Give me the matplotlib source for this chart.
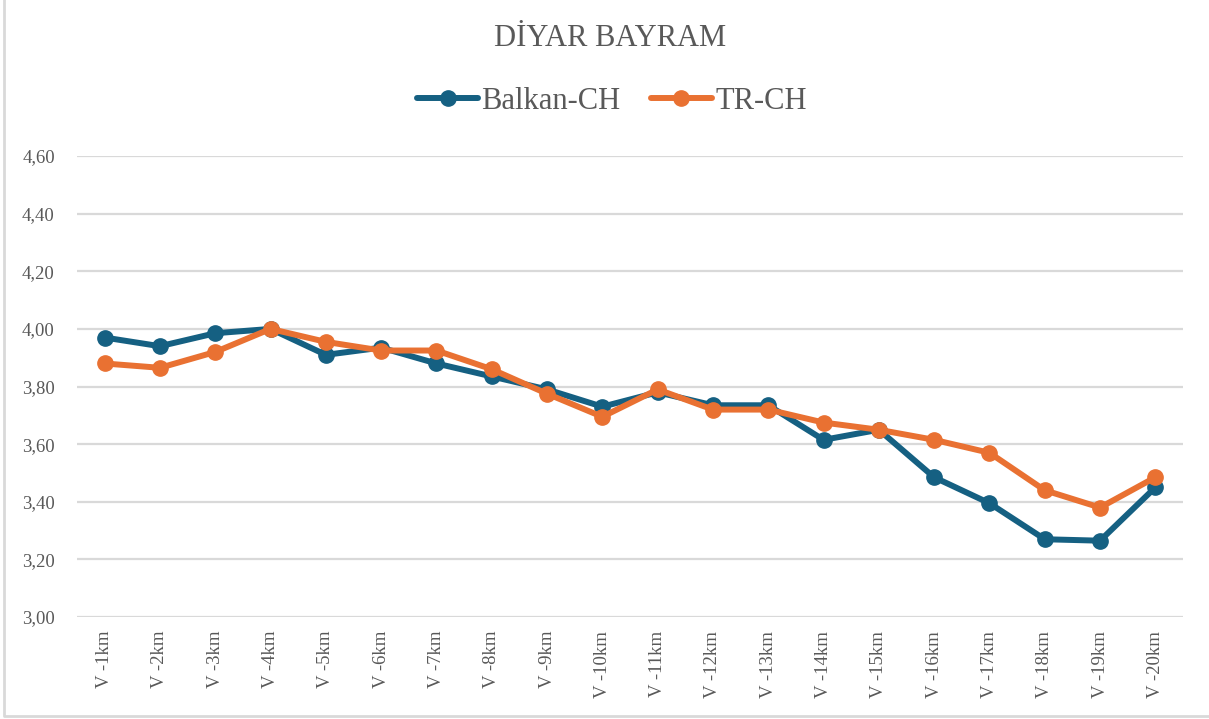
import matplotlib.pyplot as plt
from matplotlib.lines import Line2D
from matplotlib.ticker import FuncFormatter

# veriler
etiketler = ['V -%dkm' % i for i in range(1, 21)]
balkan_ch = [3.97, 3.94, 3.985, 4.00, 3.91, 3.935, 3.88, 3.835, 3.79, 3.73,
             3.78, 3.735, 3.735, 3.615, 3.65, 3.485, 3.395, 3.27, 3.265, 3.45]
tr_ch = [3.88, 3.865, 3.92, 4.00, 3.955, 3.925, 3.925, 3.86, 3.775, 3.695,
         3.79, 3.72, 3.72, 3.675, 3.65, 3.615, 3.57, 3.44, 3.38, 3.485]
y_ticks = [3.0, 3.2, 3.4, 3.6, 3.8, 4.0, 4.2, 4.4, 4.6]

plt.rcParams['font.family'] = ['Liberation Serif', 'DejaVu Serif']
gri = '#595959'

fig = plt.figure(figsize=(12.09, 7.19), dpi=100)
# dis cerceve (sol ve alt kenar gorunuyor)
fig.lines.append(Line2D([0.003, 0.003, 1.0], [1.0, 0.004, 0.004], transform=fig.transFigure,
                        color='#d9d9d9', linewidth=2))
ax = fig.add_axes([0.0637, 0.1418, 0.9148, 0.6412])

x = range(len(etiketler))
ax.plot(x, balkan_ch, color='#156082', linewidth=4.3, marker='o', markersize=11,
        label='Balkan-CH', solid_capstyle='round', zorder=3)
ax.plot(x, tr_ch, color='#E97132', linewidth=4.3, marker='o', markersize=11,
        label='TR-CH', solid_capstyle='round', zorder=4)

ax.set_xlim(-0.5, len(etiketler) - 0.5)
ax.set_ylim(3.0, 4.6)
ax.set_yticks(y_ticks)
ax.yaxis.set_major_formatter(FuncFormatter(lambda v, p: ('%.2f' % v).replace('.', ',')))
ax.set_xticks(list(x))
ax.set_xticklabels(etiketler, rotation=90)
ax.tick_params(axis='both', length=0, colors=gri, labelsize=13.5)
ax.tick_params(axis='y', pad=16)
ax.tick_params(axis='x', pad=10)
ax.grid(axis='y', color='#d9d9d9', linewidth=1.6)
ax.set_axisbelow(True)
for s in ax.spines.values():
    s.set_visible(False)

fig.text(0.505, 0.947, 'DİYAR BAYRAM', ha='center', va='center', fontsize=22, color=gri)
fig.legend(loc='center', bbox_to_anchor=(0.506, 0.859), ncol=2, frameon=False,
           fontsize=22, labelcolor=gri, handlelength=2.0, handletextpad=0.1,
           columnspacing=1.0)

plt.savefig('out.png', dpi=100)
